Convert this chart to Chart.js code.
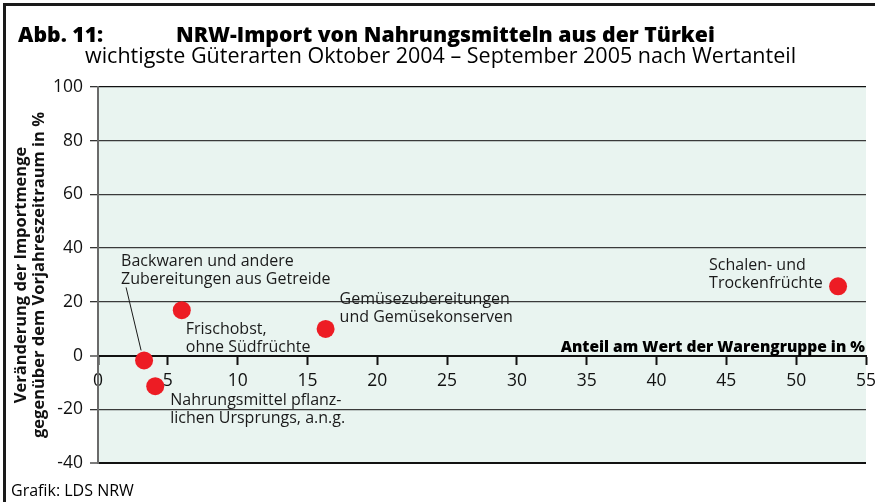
<!DOCTYPE html>
<html lang="de">
<head>
<meta charset="utf-8">
<script src="https://cdn.jsdelivr.net/npm/chart.js@4"></script>
<style>
  html, body { margin: 0; padding: 0; background: #fff; }
  #wrap { position: relative; width: 875px; height: 502px; }
</style>
</head>
<body>
<div id="wrap"><canvas id="myChart"></canvas></div>
<script>
// Güterarten (Beschriftung je Punkt, zweizeilig)
const categories = [
  ['Backwaren und andere', 'Zubereitungen aus Getreide'],
  ['Nahrungsmittel pflanz-', 'lichen Ursprungs, a.n.g.'],
  ['Frischobst,', 'ohne Südfrüchte'],
  ['Gemüsezubereitungen', 'und Gemüsekonserven'],
  ['Schalen- und', 'Trockenfrüchte']
];
// Anteil am Wert der Warengruppe in %
const anteilWert = [3.3, 4.1, 6.0, 16.3, 53.0];
// Veränderung der Importmenge gegenüber Vorjahreszeitraum in %
const veraenderung = [-1.8, -11.4, 16.9, 9.9, 25.8];
// Achsenbeschriftungen
const xTicks = [0, 5, 10, 15, 20, 25, 30, 35, 40, 45, 50, 55];
const yTicks = [-40, -20, 0, 20, 40, 60, 80, 100];

const FONT = '"Open Sans", "Noto Sans", sans-serif';
Chart.defaults.font.family = FONT;
Chart.defaults.color = '#111';

// Lage der Beschriftungen relativ zum Punkt (Pixel)
const labelOffsets = [
  { dx: -23, dy: -99, leader: [-18, -73, -3, -10] },
  { dx: 15, dy: 14 },
  { dx: 4, dy: 19 },
  { dx: 14, dy: -30 },
  { dx: -129, dy: -21 }
];

const decorPlugin = {
  id: 'decor',
  beforeDraw(chart) {
    const { ctx, chartArea: a } = chart;
    ctx.save();
    ctx.fillStyle = '#e9f4f0';
    ctx.fillRect(a.left, a.top, a.right - a.left, a.bottom - a.top);
    ctx.restore();
  },
  afterDraw(chart) {
    const { ctx, chartArea: a, scales } = chart;
    ctx.save();
    // Rahmen oben und links
    ctx.fillStyle = '#1a1a1a';
    ctx.fillRect(3, 3, chart.width - 3, 3);
    ctx.fillRect(3, 3, 3, chart.height - 3);

    // Titel
    ctx.fillStyle = '#000';
    ctx.textBaseline = 'alphabetic';
    ctx.textAlign = 'left';
    ctx.font = '800 21.2px ' + FONT;
    ctx.fillText('Abb. 11:', 18, 42);
    ctx.fillText('NRW-Import von Nahrungsmitteln aus der Türkei', 176, 42);
    ctx.font = '21.5px ' + FONT;
    ctx.fillText('wichtigste Güterarten Oktober 2004 – September 2005 nach Wertanteil', 85, 63);

    // Quelle
    ctx.font = '16px ' + FONT;
    ctx.fillText('Grafik: LDS NRW', 11, 496);

    // x-Achsentitel
    const y0 = scales.y.getPixelForValue(0);
    ctx.font = '800 15.5px ' + FONT;
    ctx.textAlign = 'right';
    ctx.fillText('Anteil am Wert der Warengruppe in %', a.right - 1, y0 - 4);

    // Punktbeschriftungen
    ctx.font = '16px ' + FONT;
    ctx.textAlign = 'left';
    ctx.textBaseline = 'middle';
    ctx.fillStyle = '#1a1a1a';
    const meta = chart.getDatasetMeta(0);
    meta.data.forEach((pt, i) => {
      const o = labelOffsets[i];
      categories[i].forEach((line, j) => {
        ctx.fillText(line, pt.x + o.dx, pt.y + o.dy + j * 18);
      });
      if (o.leader) {
        ctx.strokeStyle = '#1a1a1a';
        ctx.lineWidth = 1;
        ctx.beginPath();
        ctx.moveTo(pt.x + o.leader[0], pt.y + o.leader[1]);
        ctx.lineTo(pt.x + o.leader[2], pt.y + o.leader[3]);
        ctx.stroke();
      }
    });
    ctx.restore();
  }
};

const ctx = document.getElementById('myChart').getContext('2d');
const myChart = new Chart(ctx, {
  type: 'scatter',
  data: {
    datasets: [{
      data: anteilWert.map((x, i) => ({ x: x, y: veraenderung[i] })),
      backgroundColor: '#ed1c24',
      borderWidth: 0,
      pointRadius: 9,
      pointHoverRadius: 9
    }]
  },
  options: {
    responsive: true,
    maintainAspectRatio: false,
    animation: false,
    events: [],
    layout: { padding: { top: 87, bottom: 39, right: 7, left: 0 } },
    plugins: { legend: { display: false }, tooltip: { enabled: false } },
    scales: {
      x: {
        type: 'linear',
        position: { y: 0 },
        min: xTicks[0],
        max: xTicks[xTicks.length - 1],
        afterBuildTicks: s => { s.ticks = xTicks.map(v => ({ value: v })); },
        afterFit: s => { s.paddingLeft = 0; s.paddingRight = 0; },
        ticks: { font: { size: 17.5 }, padding: 7, autoSkip: false, maxRotation: 0, color: '#111' },
        grid: { drawOnChartArea: false, drawTicks: true, tickLength: 8, tickColor: '#111', tickWidth: 2 },
        border: { color: '#111', width: 2 }
      },
      y: {
        type: 'linear',
        min: yTicks[0],
        max: yTicks[yTicks.length - 1],
        afterBuildTicks: s => { s.ticks = yTicks.map(v => ({ value: v })); },
        afterFit: s => { s.width = 98; s.paddingTop = 0; s.paddingBottom = 0; },
        ticks: { font: { size: 17.5 }, padding: 7, color: '#111' },
        grid: {
          color: c => (c.tick && (c.tick.value === 100 || c.tick.value === -40 || c.tick.value === 0)) ? '#111' : '#3a3a3a',
          lineWidth: c => (c.tick && (c.tick.value === -40 || c.tick.value === 0)) ? 2 : 1.3,
          tickLength: 8,
          tickColor: '#333',
          tickWidth: 1.3
        },
        border: { color: '#6a6a6a', width: 2 },
        title: {
          display: true,
          text: ['Veränderung der Importmenge', 'gegenüber dem Vorjahreszeitraum in %'],
          font: { size: 16.5, weight: 'bold', lineHeight: 1.1 },
          color: '#111',
          padding: { top: 12, bottom: 0 }
        }
      }
    }
  },
  plugins: [decorPlugin]
});
</script>
</body>
</html>
